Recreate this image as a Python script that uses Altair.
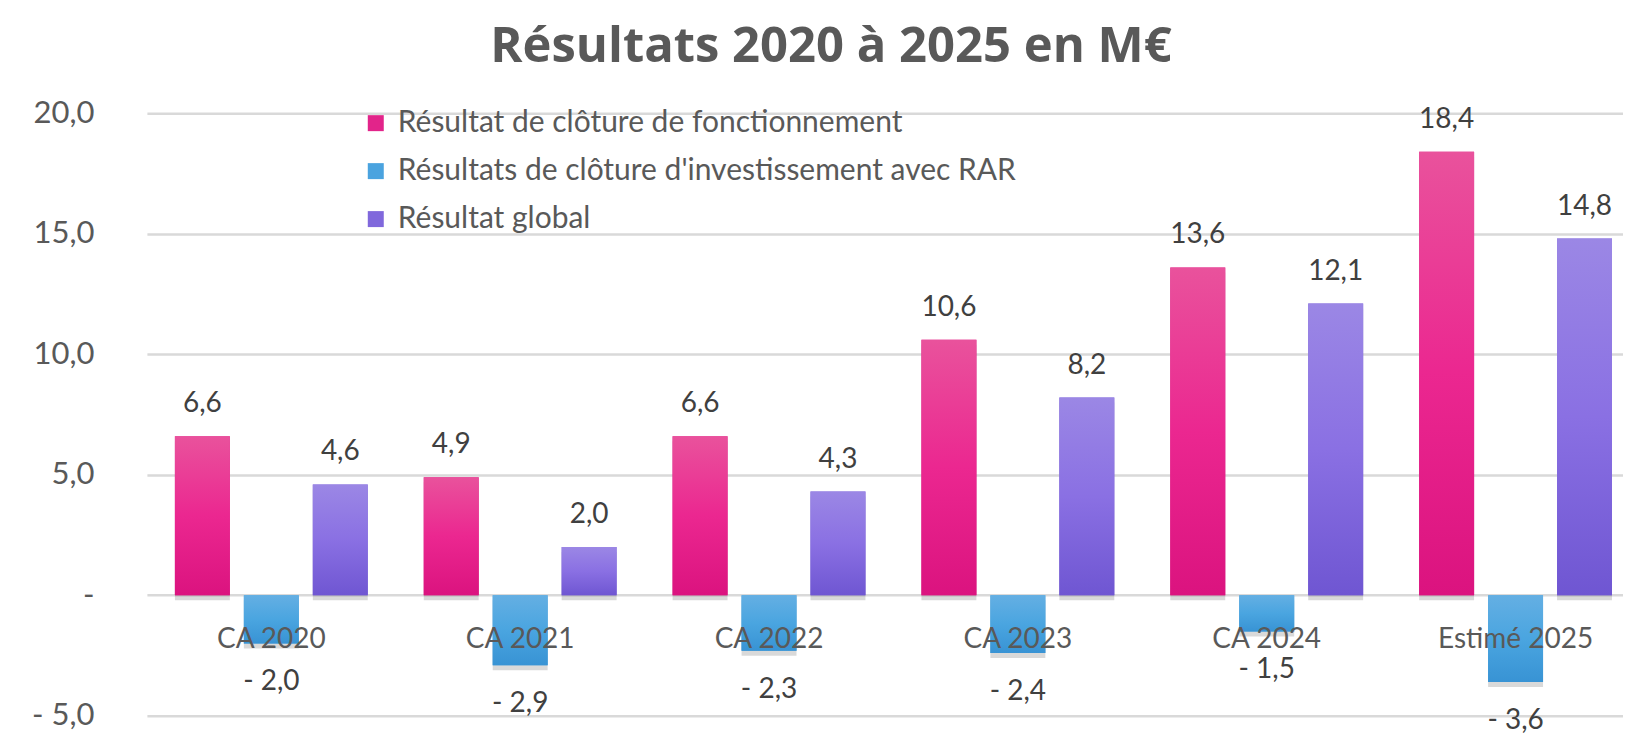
import altair as alt
import pandas as pd

FONT = "Lato"
TITLE_FONT = "Open Sans"

categories = ["CA 2020", "CA 2021", "CA 2022", "CA 2023", "CA 2024", "Estimé 2025"]
series = [
    "Résultat de clôture de fonctionnement",
    "Résultats de clôture d'investissement avec RAR",
    "Résultat global",
]
fonctionnement = [6.6, 4.9, 6.6, 10.6, 13.6, 18.4]
investissement = [-2.0, -2.9, -2.3, -2.4, -1.5, -3.6]
global_res = [4.6, 2.0, 4.3, 8.2, 12.1, 14.8]

solid_colors = ["#E2248A", "#4AA3DF", "#8068DC"]
grad_stops = [
    ["#E9529C", "#EB2790", "#DB137F"],
    ["#64AFE3", "#4AA5E0", "#3893D4"],
    ["#9B87E5", "#8A70E3", "#6F56D2"],
]
y_ticks = [-5, 0, 5, 10, 15, 20]


def fr(v):
    s = f"{abs(v):.1f}".replace(".", ",")
    return ("- " + s) if v < 0 else s


rows = []
for s, vals in zip(series, [fonctionnement, investissement, global_res]):
    for c, v in zip(categories, vals):
        rows.append({"cat": c, "serie": s, "value": v, "label": fr(v)})
df = pd.DataFrame(rows)

x_enc = alt.X(
    "cat:N",
    sort=categories,
    scale=alt.Scale(range=[0, 1494], paddingInner=0, paddingOuter=0),
    axis=alt.Axis(
        title=None,
        labelAngle=0,
        domain=False,
        ticks=False,
        tickSize=0,
        labelPadding=52,
        labelBaseline="alphabetic",
        offset=-120.6,
        zindex=2,
        labelFont=FONT,
        labelFontSize=28,
        labelColor="#595959",
    ),
)
xoff_enc = alt.XOffset(
    "serie:N",
    sort=series,
    scale=alt.Scale(domain=series, paddingInner=0.203, paddingOuter=0.406),
)
y_enc = alt.Y(
    "value:Q",
    scale=alt.Scale(domain=[-5, 20], nice=False),
    axis=alt.Axis(
        title=None,
        values=y_ticks,
        domain=False,
        ticks=False,
        labelPadding=53,
        gridColor="#D9D9D9",
        gridWidth=2.5,
        labelFont=FONT,
        labelFontSize=31,
        labelColor="#595959",
        labelExpr="datum.value == 0 ? '-\u00a0\u00a0\u00a0\u00a0' : (datum.value < 0 ? '- ' : '') + replace(format(abs(datum.value), '.1f'), '.', ',')",
        zindex=0,
    ),
)

base = alt.Chart(df)

shadow = base.mark_bar(color="#000000", opacity=0.15, yOffset=5, xOffset=1).encode(
    x=x_enc, xOffset=xoff_enc, y=y_enc
)

legend_bars = base.mark_bar().encode(
    x=x_enc,
    xOffset=xoff_enc,
    y=y_enc,
    color=alt.Color(
        "serie:N",
        sort=series,
        scale=alt.Scale(domain=series, range=solid_colors),
        legend=alt.Legend(
            title=None,
            orient="none",
            legendX=214,
            legendY=-5,
            direction="vertical",
            symbolType="square",
            symbolSize=256,
            symbolStrokeWidth=0,
            labelFont=FONT,
            labelFontSize=30,
            labelColor="#595959",
            labelOffset=7,
            labelLimit=0,
            rowPadding=18,
            padding=0,
        ),
    ),
)

grad_layers = []
for s, stops in zip(series, grad_stops):
    g = alt.LinearGradient(
        gradient="linear",
        stops=[
            alt.GradientStop(color=stops[0], offset=0),
            alt.GradientStop(color=stops[1], offset=0.5),
            alt.GradientStop(color=stops[2], offset=1),
        ],
        x1=0, x2=0, y1=0, y2=1,
    )
    grad_layers.append(
        base.transform_filter(alt.datum.serie == s)
        .mark_bar(color=g)
        .encode(x=x_enc, xOffset=xoff_enc, y=y_enc)
    )

text_pos = base.transform_filter(alt.datum.value >= 0).mark_text(
    dy=-24, baseline="alphabetic", font=FONT, fontSize=28, color="#404040"
).encode(x=x_enc, xOffset=xoff_enc, y=y_enc, text="label:N")

text_neg = base.transform_filter(alt.datum.value < 0).mark_text(
    dy=47, baseline="alphabetic", font=FONT, fontSize=28, color="#404040"
).encode(x=x_enc, xOffset=xoff_enc, y=y_enc, text="label:N")

chart = (
    alt.layer(shadow, legend_bars, *grad_layers, text_pos, text_neg)
    .properties(
        width=1477,
        height=603,
        title=alt.Title(
            "Résultats 2020 à 2025 en M€",
            font=TITLE_FONT,
            fontSize=49,
            fontWeight="bold",
            color="#595959",
            anchor="middle",
            dx=-54,
            offset=25,
        ),
        autosize=alt.AutoSizeParams(type="none"),
        padding={"left": 139, "top": 105, "right": 0, "bottom": 30},
    )
    .configure_view(stroke=None)
)

chart.save("out.html", embed_options={"renderer": "svg", "actions": False})
